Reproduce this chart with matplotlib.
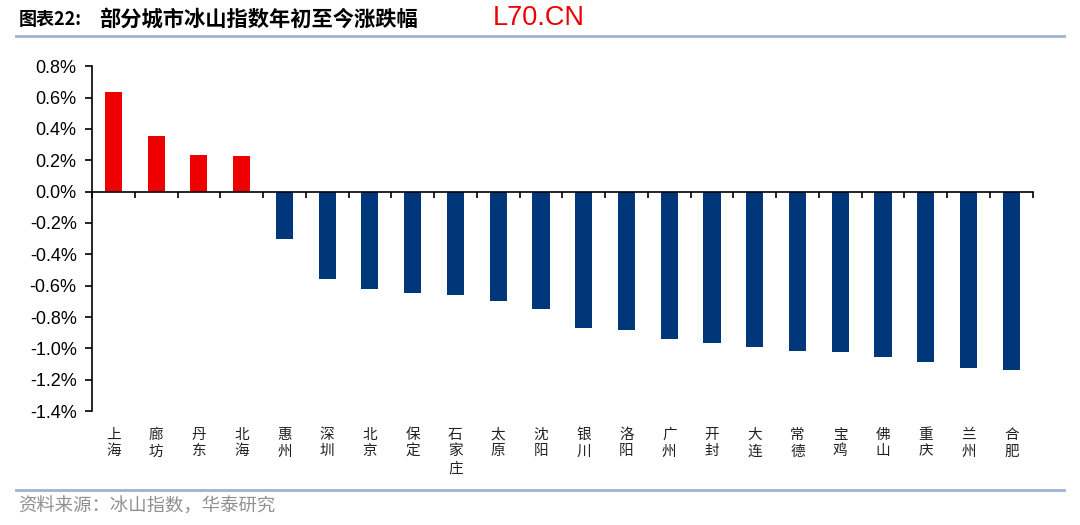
import matplotlib
matplotlib.use('Agg')
import matplotlib.pyplot as plt
from matplotlib.ticker import FuncFormatter
import matplotlib.transforms as mtransforms

plt.rcParams['font.family'] = ['Liberation Sans', 'Noto Sans CJK SC', 'DejaVu Sans']

# Data
cities = ['上海', '廊坊', '丹东', '北海', '惠州', '深圳', '北京', '保定', '石家庄', '太原', '沈阳',
          '银川', '洛阳', '广州', '开封', '大连', '常德', '宝鸡', '佛山', '重庆', '兰州', '合肥']
changes = [0.634, 0.353, 0.232, 0.225, -0.304, -0.557, -0.620, -0.646, -0.659, -0.697, -0.748,
           -0.873, -0.885, -0.939, -0.965, -0.990, -1.016, -1.026, -1.054, -1.090, -1.128, -1.141]
yticks = [0.8, 0.6, 0.4, 0.2, 0.0, -0.2, -0.4, -0.6, -0.8, -1.0, -1.2, -1.4]

red = '#EE0000'
blue = '#00377A'

fig = plt.figure(figsize=(10.8, 5.25), dpi=100)
ax = fig.add_axes([0.0852, 0.217, 0.871, 0.657])

x = list(range(len(cities)))
colors = [red if v > 0 else blue for v in changes]
ax.bar(x, changes, width=0.4, color=colors, zorder=2)

ax.set_xlim(-0.5, len(cities) - 0.5)
ax.set_ylim(-1.4, 0.8)
ax.set_yticks(yticks)
ax.yaxis.set_major_formatter(FuncFormatter(lambda v, p: f'{v:.1f}%'))
ax.tick_params(axis='y', direction='out', length=5, width=1.2, labelsize=13, pad=6)

for s in ['top', 'right']:
    ax.spines[s].set_visible(False)
ax.spines['left'].set_linewidth(1.2)
ax.spines['bottom'].set_position(('data', 0))
ax.spines['bottom'].set_linewidth(1.2)

ax.set_xticks([i + 0.5 for i in x[:-1]] + [-0.5, len(cities) - 0.5])
ax.set_xticklabels([])
ax.tick_params(axis='x', direction='out', length=4, width=1.2)

# vertical city labels under the axes
trans = mtransforms.blended_transform_factory(ax.transData, ax.transAxes)
for i, c in enumerate(cities):
    ax.text(i, -0.048, '\n'.join(c), transform=trans, ha='center', va='top',
            fontsize=10.5, linespacing=1.25, family=['Noto Sans CJK SC'], color='#222222')

# header
fig.text(0.017, 0.963, '图表22:', fontsize=13, fontweight='bold',
         va='center', ha='left', family=['Noto Sans CJK SC', 'DejaVu Sans'])
fig.text(0.092, 0.963, '部分城市冰山指数年初至今涨跌幅', fontsize=15.3, fontweight='bold',
         va='center', ha='left', family=['Noto Sans CJK SC'])
fig.text(0.456, 0.966, 'L70.CN', fontsize=19.5, color='#EE0000', va='center', ha='left',
         family=['Liberation Sans'])
fig.add_artist(plt.Line2D([0.015, 0.985], [0.932, 0.932], color='#9DB3CF', lw=2.0))
fig.add_artist(plt.Line2D([0.015, 0.985], [0.066, 0.066], color='#9DB3CF', lw=2.0))
fig.text(0.017, 0.034, '资料来源：冰山指数，华泰研究', fontsize=13.2, color='#909090',
         va='center', ha='left', family=['Noto Sans CJK SC'])

fig.savefig('out.png', dpi=100)
